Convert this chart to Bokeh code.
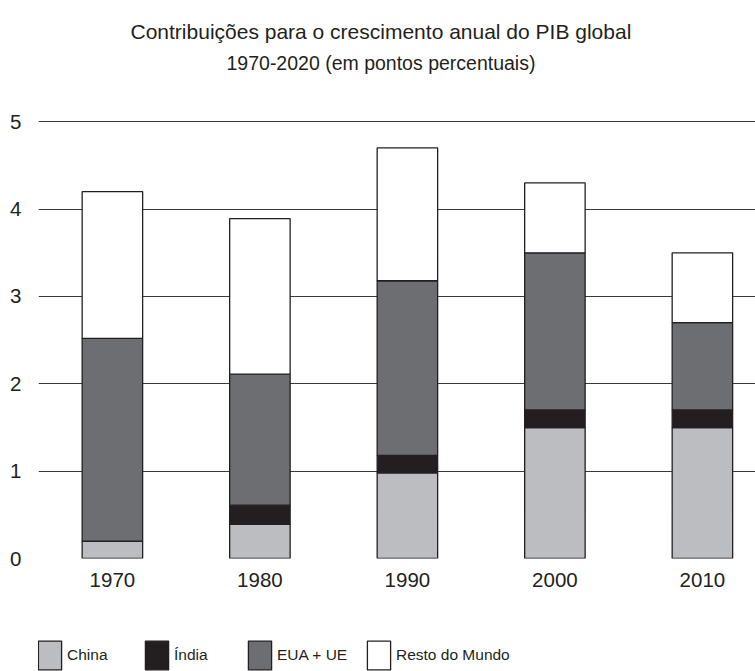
from bokeh.plotting import figure
from bokeh.models import Range1d, FixedTicker, ColumnDataSource, Title, Legend, LegendItem
from bokeh.layouts import column
from bokeh.embed import file_html
from bokeh.resources import INLINE

# ---- data ----
decades = [1970, 1980, 1990, 2000, 2010]
china = [0.2, 0.39, 0.98, 1.5, 1.5]
india = [0.0, 0.22, 0.2, 0.2, 0.2]
eua_ue = [2.32, 1.5, 2.0, 1.8, 1.0]
resto = [1.68, 1.78, 1.52, 0.8, 0.8]
series_keys = ["china", "india", "eua_ue", "resto"]
series_labels = ["China", "Índia", "EUA + UE", "Resto do Mundo"]
y_ticks = [0, 1, 2, 3, 4, 5]
title_line1 = "Contribuições para o crescimento anual do PIB global"
title_line2 = "1970-2020 (em pontos percentuais)"

# ---- style ----
colors = ["#bcbdc0", "#231f20", "#6d6e71", "#ffffff"]
ink = "#231f20"
FONT = "Liberation Sans"
legend_x = [-3, 104, 207, 326]   # screen offsets of the legend entries

src = ColumnDataSource(dict(x=decades, china=china, india=india, eua_ue=eua_ue, resto=resto))

p = figure(width=755, height=603, output_backend="svg", toolbar_location=None,
           x_range=Range1d(1964.99, 2013.6), y_range=Range1d(0, 5.461),
           min_border_left=38, min_border_right=0, min_border_top=81, min_border_bottom=45)
p.outline_line_color = None
p.background_fill_color = "white"
p.border_fill_color = "white"

p.title.text = title_line1
p.title.text_font = FONT
p.title.text_font_size = "21px"
p.title.text_font_style = "normal"
p.title.text_color = ink
p.title.align = "left"
p.title.offset = 92
p.title.standoff = 0
t2 = Title(text=title_line2, text_font=FONT, text_font_size="19.5px", text_font_style="normal",
           text_color=ink, align="left", offset=188, standoff=15)
p.add_layout(t2, "above")

p.vbar_stack(series_keys, x="x", width=4.1, source=src, fill_color=colors,
             line_color=ink, line_width=1.3)

p.xgrid.grid_line_color = None
p.ygrid.grid_line_color = "#3a3a3a"
p.ygrid.grid_line_width = 1
p.ygrid.ticker = FixedTicker(ticks=y_ticks)

for ax in (p.xaxis[0], p.yaxis[0]):
    ax.axis_line_color = None
    ax.major_tick_line_color = None
    ax.minor_tick_line_color = None
    ax.major_tick_out = 0
    ax.major_tick_in = 0
    ax.minor_tick_out = 0
    ax.major_label_text_font = FONT
    ax.major_label_text_font_size = "20.5px"
    ax.major_label_text_color = ink
p.xaxis.ticker = FixedTicker(ticks=decades)
p.yaxis.ticker = FixedTicker(ticks=y_ticks)
p.yaxis.major_label_standoff = 17
p.xaxis.major_label_standoff = 14

# ---- legend strip (own figure so the swatches sit below the axis labels) ----
p2 = figure(width=755, height=68, output_backend="svg", toolbar_location=None,
            x_range=Range1d(0, 1), y_range=Range1d(0, 1),
            min_border_left=0, min_border_right=0, min_border_top=0, min_border_bottom=0,
            x_axis_location=None, y_axis_location=None)
p2.outline_line_color = None
p2.xgrid.grid_line_color = None
p2.ygrid.grid_line_color = None
legend_renderers = p2.vbar_stack(series_keys, x="x", width=4.1, source=src, fill_color=colors,
                                 line_color=ink, line_width=1.3)
for r, lab, lx in zip(legend_renderers, series_labels, legend_x):
    r.visible = False
    lg = Legend(items=[LegendItem(label=lab, renderers=[r])], location=(lx, -2),
                orientation="horizontal", click_policy="none",
                glyph_width=29, glyph_height=36, label_standoff=3,
                padding=0, margin=0, border_line_color=None, background_fill_alpha=0,
                label_text_font=FONT, label_text_font_size="15.5px", label_text_color=ink)
    p2.add_layout(lg)

layout = column(p, p2, spacing=0)
open("out.html", "w").write(file_html(layout, INLINE))
